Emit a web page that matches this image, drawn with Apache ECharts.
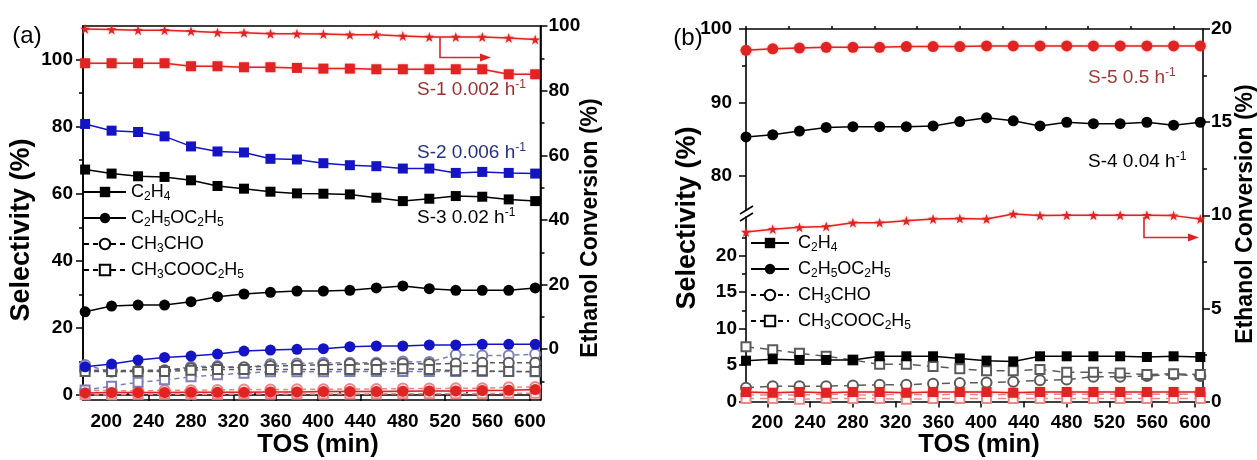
<!DOCTYPE html>
<html>
<head>
<meta charset="utf-8">
<script src="https://cdn.jsdelivr.net/npm/echarts@6/dist/echarts.min.js"></script>
<style>
  html, body { margin: 0; padding: 0; background: #fff; }
  #chart { width: 1257px; height: 460px; }
</style>
</head>
<body>
<div id="chart"></div>
<script>
// time on stream (min), same for every series
const tos = [180, 205, 230, 255, 280, 305, 330, 355, 380, 405, 430, 455, 480, 505, 530, 555, 580, 605];

// ---- panel (a) ----
const aS1Conv   = [99.1, 98.9, 98.7, 98.7, 98.4, 98.0, 97.9, 97.6, 97.6, 97.5, 97.3, 97.3, 96.9, 96.6, 96.6, 96.6, 96.3, 95.8];
const aS1C2H4   = [98.9, 98.9, 98.9, 98.9, 98.0, 98.0, 97.7, 97.7, 97.5, 97.3, 97.3, 97.1, 97.1, 97.1, 97.1, 97.1, 95.6, 95.6];
const aS1Ether  = [0.6, 0.7, 0.7, 0.7, 0.8, 0.8, 0.8, 0.9, 0.9, 1.0, 1.0, 1.0, 1.1, 1.2, 1.2, 1.3, 1.4, 1.6];
const aS1CH3CHO = [1.3, 1.3, 1.2, 1.4, 1.4, 1.5, 1.6, 1.6, 1.7, 1.7, 1.8, 1.8, 1.9, 1.9, 2.0, 2.0, 2.3, 2.4];
const aS1EtOAc  = [0.1, 0.1, 0.2, 0.2, 0.2, 0.2, 0.3, 0.3, 0.3, 0.3, 0.3, 0.3, 0.4, 0.4, 0.4, 0.4, 0.5, 0.5];
const aS2C2H4   = [80.8, 78.8, 78.4, 77.1, 74.1, 72.6, 72.3, 70.4, 70.2, 69.1, 68.5, 68.2, 67.5, 67.5, 66.2, 66.5, 66.2, 66.0];
const aS2Ether  = [8.4, 9.2, 10.4, 11.2, 11.6, 12.2, 13.1, 13.4, 13.6, 13.8, 14.4, 14.6, 14.6, 14.9, 14.9, 15.1, 15.1, 15.1];
const aS2CH3CHO = [8.9, 6.9, 7.2, 7.1, 8.4, 8.6, 8.0, 9.2, 9.4, 9.6, 9.6, 9.6, 10.0, 9.8, 12.0, 11.8, 11.8, 12.2];
const aS2EtOAc  = [1.5, 2.6, 3.8, 4.5, 5.4, 6.0, 6.5, 6.9, 6.9, 6.9, 7.0, 7.0, 7.0, 7.0, 7.0, 7.0, 7.0, 6.9];
const aS3C2H4   = [67.2, 66.0, 65.2, 65.0, 64.0, 62.3, 61.5, 60.6, 60.1, 60.0, 59.8, 58.8, 57.8, 58.5, 59.3, 59.1, 58.3, 57.8];
const aS3Ether  = [24.8, 26.5, 26.8, 26.8, 27.8, 29.3, 30.1, 30.6, 31.0, 31.0, 31.2, 31.9, 32.5, 31.7, 31.2, 31.2, 31.2, 31.9];
const aS3CH3CHO = [7.4, 7.3, 7.3, 7.4, 8.0, 8.3, 8.3, 8.6, 8.8, 9.0, 9.2, 9.2, 9.4, 9.2, 9.4, 9.6, 9.6, 9.6];
const aS3EtOAc  = [7.0, 7.0, 7.0, 7.0, 7.4, 7.6, 7.6, 7.6, 7.6, 7.6, 7.6, 7.6, 7.8, 7.6, 7.2, 7.2, 7.0, 7.0];

// ---- panel (b) ----
const bS5Conv   = [9.1, 9.25, 9.35, 9.4, 9.6, 9.6, 9.7, 9.8, 9.82, 9.8, 10.07, 9.98, 10.0, 10.0, 10.0, 10.0, 9.98, 9.8];
const bS5Ether  = [97.1, 97.3, 97.4, 97.5, 97.5, 97.5, 97.6, 97.6, 97.6, 97.7, 97.7, 97.7, 97.7, 97.7, 97.7, 97.7, 97.7, 97.7];
const bS5C2H4   = [1.3, 1.2, 1.3, 1.2, 1.3, 1.3, 1.2, 1.3, 1.3, 1.3, 1.2, 1.3, 1.3, 1.3, 1.3, 1.3, 1.3, 1.3];
const bS5CH3CHO = [0.9, 0.9, 0.9, 1.0, 0.9, 0.9, 1.0, 0.9, 1.0, 0.9, 1.0, 1.0, 1.0, 1.0, 1.0, 1.0, 1.0, 1.0];
const bS5EtOAc  = [0.4, 0.4, 0.3, 0.4, 0.4, 0.4, 0.3, 0.4, 0.4, 0.4, 0.4, 0.4, 0.4, 0.4, 0.4, 0.4, 0.4, 0.4];
const bS4Ether  = [85.3, 85.6, 86.1, 86.6, 86.7, 86.7, 86.7, 86.8, 87.4, 87.9, 87.5, 86.8, 87.3, 87.1, 87.1, 87.3, 86.9, 87.3];
const bS4C2H4   = [5.6, 5.8, 5.7, 5.7, 5.7, 6.2, 6.2, 6.2, 5.9, 5.6, 5.5, 6.2, 6.2, 6.2, 6.2, 6.1, 6.2, 6.1];
const bS4CH3CHO = [1.9, 2.1, 2.1, 2.1, 2.2, 2.3, 2.3, 2.45, 2.55, 2.6, 2.7, 2.9, 3.0, 3.4, 3.4, 3.5, 3.7, 3.5];
const bS4EtOAc  = [7.5, 7.1, 6.6, 6.2, 5.7, 5.1, 5.1, 4.8, 4.5, 4.2, 4.2, 4.4, 4.0, 4.0, 3.9, 3.7, 3.8, 3.7];

// tick values
const xMajor = [200, 240, 280, 320, 360, 400, 440, 480, 520, 560, 600];
const xMinor = [180, 220, 260, 300, 340, 380, 420, 460, 500, 540, 580];
const aLeftMajor = [0, 20, 40, 60, 80, 100];
const aLeftMinor = [10, 30, 50, 70, 90];
const aRightMajor = [0, 20, 40, 60, 80, 100];
const aRightMinor = [-10, 10, 30, 50, 70, 90];
const bUpMajor = [80, 90, 100];
const bUpMinor = [85, 95];
const bLowMajor = [0, 5, 10, 15, 20];
const bLowMinor = [2.5, 7.5, 12.5, 17.5, 22.5];

const legendNames = ['C2H4', 'C2H5OC2H5', 'CH3CHO', 'CH3COOC2H5'];

const RED = '#e02424', PINK = '#e98a8a', BLUE = '#1414c4', SLATE = '#7c80b6', GREY = '#5a5a5a';
const STAR = 'path://M12,0 L14.8,8.6 L23.8,8.6 L16.5,13.9 L19.3,22.6 L12,17.3 L4.7,22.6 L7.5,13.9 L0.2,8.6 L9.2,8.6 Z';
const FONT = 'Liberation Sans, Arial, sans-serif';

const chart = echarts.init(document.getElementById('chart'));

function pts(arr) {
  return tos.map((t, i) => [t, arr[i]]);
}

function ser(name, arr, xi, yi, color, kind, glow, dash) {
  const k = {
    sq: ['rect', 10, false],
    ci: ['circle', 11, false],
    oc: ['emptyCircle', 10, true],
    os: ['emptyRect', 9, true],
    st: [STAR, 10, false]
  }[kind];
  const s = {
    name: name,
    type: 'line',
    xAxisIndex: xi,
    yAxisIndex: yi,
    data: arr ? pts(arr) : [],
    symbol: k[0],
    symbolSize: k[1],
    showSymbol: true,
    lineStyle: { color: color, width: 1.5, type: k[2] ? (dash || [5, 4]) : 'solid' },
    itemStyle: { color: color },
    emphasis: { disabled: true },
    z: k[2] ? 2 : 3
  };
  if (k[2]) s.itemStyle.borderWidth = 1.3;
  if (glow) {
    s.itemStyle.shadowBlur = 3;
    s.itemStyle.shadowColor = 'rgba(235,60,60,0.45)';
    s.lineStyle.shadowBlur = 2;
    s.lineStyle.shadowColor = 'rgba(235,60,60,0.4)';
  }
  return s;
}

function chem(name) {
  return name.replace(/([A-Za-z]+)|(\d+)/g, (m, a, d) => a ? '{n|' + a + '}' : '{s|' + d + '}');
}

const legendRich = {
  n: { fontFamily: FONT, fontSize: 18, lineHeight: 22, color: '#000' },
  s: { fontFamily: FONT, fontSize: 12, lineHeight: 12, verticalAlign: 'bottom', color: '#000' }
};

const tickLbl = { color: '#000', fontFamily: FONT, fontWeight: 'bold', fontSize: 19 };
const blackLine = { show: true, lineStyle: { color: '#000', width: 1.6 } };

function xAx(grid, min, max, major, minor, show) {
  return [
    {
      type: 'value', gridIndex: grid, min: min, max: max, show: show,
      axisLine: blackLine,
      axisTick: { show: true, customValues: major, length: 6, lineStyle: { color: '#000', width: 1.5 } },
      axisLabel: Object.assign({ customValues: major, margin: 12 }, tickLbl),
      splitLine: { show: false }
    },
    {
      type: 'value', gridIndex: grid, min: min, max: max, show: show,
      axisLine: { show: false },
      axisTick: { show: true, customValues: minor, length: 3, lineStyle: { color: '#000', width: 1.5 } },
      axisLabel: { show: false },
      splitLine: { show: false }
    }
  ];
}

function yAx(grid, pos, min, max, major, minor, margin) {
  return [
    {
      type: 'value', gridIndex: grid, position: pos, min: min, max: max,
      axisLine: blackLine,
      axisTick: { show: true, customValues: major, length: 7, lineStyle: { color: '#000', width: 1.5 } },
      axisLabel: Object.assign({ customValues: major, margin: margin }, tickLbl),
      splitLine: { show: false }
    },
    {
      type: 'value', gridIndex: grid, position: pos, min: min, max: max,
      axisLine: { show: false },
      axisTick: { show: true, customValues: minor, length: 4, lineStyle: { color: '#000', width: 1.5 } },
      axisLabel: { show: false },
      splitLine: { show: false }
    }
  ];
}

const xAxes = [].concat(
  xAx(0, 178, 610, xMajor, xMinor, true),      // 0,1  panel a
  xAx(1, 180, 607.5, xMajor, xMinor, true),    // 2,3  panel b full
  [
    { type: 'value', gridIndex: 2, min: 180, max: 607.5, position: 'top',
      axisLine: blackLine, axisTick: { show: false }, axisLabel: { show: false }, splitLine: { show: false } }, // 4
    { type: 'value', gridIndex: 3, min: 180, max: 607.5, show: false }  // 5
  ]
);

const yAxes = [].concat(
  yAx(0, 'left', -1.5, 110, aLeftMajor, aLeftMinor, 10),       // 0,1
  yAx(0, 'right', -15.7, 100, aRightMajor, aRightMinor, 8),    // 2,3
  [
    { // 4: panel b conversion
      type: 'value', gridIndex: 1, position: 'right', min: 0, max: 20, interval: 5,
      axisLine: blackLine,
      axisTick: { show: true, length: 7, lineStyle: { color: '#000', width: 1.5 } },
      minorTick: { show: true, splitNumber: 2, length: 4, lineStyle: { color: '#000', width: 1.5 } },
      axisLabel: Object.assign({ margin: 8 }, tickLbl),
      splitLine: { show: false }
    }
  ],
  yAx(2, 'left', 75.35, 100, bUpMajor, bUpMinor, 14),          // 5,6
  yAx(3, 'left', 0, 25.3, bLowMajor, bLowMinor, 9)             // 7,8
);

const series = [
  // legend stand-ins
  ser('C2H4', null, 0, 0, '#000', 'sq'),
  ser('C2H5OC2H5', null, 0, 0, '#000', 'ci'),
  ser('CH3CHO', null, 0, 0, '#000', 'oc'),
  ser('CH3COOC2H5', null, 0, 0, '#000', 'os'),

  // panel a
  ser('a S-1 conv', aS1Conv, 0, 2, RED, 'st', true),
  ser('a S-1 C2H4', aS1C2H4, 0, 0, RED, 'sq', true),
  ser('a S-1 ether', aS1Ether, 0, 0, RED, 'ci', true),
  ser('a S-1 CH3CHO', aS1CH3CHO, 0, 0, PINK, 'oc'),
  ser('a S-1 EtOAc', aS1EtOAc, 0, 0, PINK, 'os'),
  ser('a S-2 C2H4', aS2C2H4, 0, 0, BLUE, 'sq'),
  ser('a S-2 ether', aS2Ether, 0, 0, BLUE, 'ci'),
  ser('a S-2 CH3CHO', aS2CH3CHO, 0, 0, SLATE, 'oc'),
  ser('a S-2 EtOAc', aS2EtOAc, 0, 0, SLATE, 'os'),
  ser('a S-3 C2H4', aS3C2H4, 0, 0, '#000', 'sq'),
  ser('a S-3 ether', aS3Ether, 0, 0, '#000', 'ci'),
  ser('a S-3 CH3CHO', aS3CH3CHO, 0, 0, GREY, 'oc'),
  ser('a S-3 EtOAc', aS3EtOAc, 0, 0, GREY, 'os'),

  // panel b
  ser('b S-5 conv', bS5Conv, 2, 4, RED, 'st', true),
  ser('b S-5 ether', bS5Ether, 4, 5, RED, 'ci', true),
  ser('b S-4 ether', bS4Ether, 4, 5, '#000', 'ci'),
  ser('b S-5 C2H4', bS5C2H4, 5, 7, RED, 'sq', true),
  ser('b S-5 CH3CHO', bS5CH3CHO, 5, 7, PINK, 'oc', false, [8, 6]),
  ser('b S-5 EtOAc', bS5EtOAc, 5, 7, PINK, 'os', false, [8, 6]),
  ser('b S-4 C2H4', bS4C2H4, 5, 7, '#000', 'sq'),
  ser('b S-4 CH3CHO', bS4CH3CHO, 5, 7, GREY, 'oc', false, [8, 6]),
  ser('b S-4 EtOAc', bS4EtOAc, 5, 7, GREY, 'os', false, [8, 6])
];

function txt(x, y, text, style, rot) {
  return {
    type: 'text', x: x, y: y, rotation: rot || 0, silent: true,
    style: Object.assign({ text: text, align: 'center', verticalAlign: 'middle', fill: '#000' }, style)
  };
}

const titleBold = (size) => ({ font: 'bold ' + size + 'px ' + FONT });
const rateRich = (color) => ({
  rich: {
    n: { fontFamily: FONT, fontSize: 19, lineHeight: 22, fill: color },
    p: { fontFamily: FONT, fontSize: 12, lineHeight: 12, verticalAlign: 'top', fill: color }
  }
});

const graphics = [
  txt(27, 36, '(a)', { font: '24px ' + FONT }),
  txt(688, 38, '(b)', { font: '24px ' + FONT }),
  txt(22, 230, 'Selectivity (%)', titleBold(27), Math.PI / 2),
  txt(688, 218, 'Selectivity (%)', titleBold(27), Math.PI / 2),
  txt(591, 228, 'Ethanol Conversion (%)', titleBold(23), Math.PI / 2),
  txt(1246, 214, 'Ethanol Conversion (%)', titleBold(23), Math.PI / 2),
  txt(318, 445, 'TOS (min)', titleBold(25.5)),
  txt(979, 445, 'TOS (min)', titleBold(25.5)),
  txt(417, 90, '{n|S-1 0.002 h}{p|-1}', Object.assign({ align: 'left' }, rateRich('#9b3030'))),
  txt(417, 153, '{n|S-2 0.006 h}{p|-1}', Object.assign({ align: 'left' }, rateRich('#253080'))),
  txt(417, 218, '{n|S-3 0.02 h}{p|-1}', Object.assign({ align: 'left' }, rateRich('#000'))),
  txt(1088, 78, '{n|S-5 0.5 h}{p|-1}', Object.assign({ align: 'left' }, rateRich('#a03a3a'))),
  txt(1088, 162, '{n|S-4 0.04 h}{p|-1}', Object.assign({ align: 'left' }, rateRich('#000'))),
  // axis break marks on panel b left axis
  { type: 'line', silent: true, shape: { x1: 740, y1: 214, x2: 753, y2: 206 }, style: { stroke: '#000', lineWidth: 1.6 } },
  { type: 'line', silent: true, shape: { x1: 740, y1: 221, x2: 753, y2: 213 }, style: { stroke: '#000', lineWidth: 1.6 } },
  // arrows pointing to the conversion axis
  { type: 'polyline', silent: true, shape: { points: [[440, 37], [440, 57.5], [482, 57.5]] }, style: { stroke: RED, lineWidth: 1.6, fill: null } },
  { type: 'polygon', silent: true, shape: { points: [[480, 53.5], [491, 57.5], [480, 61.5]] }, style: { fill: RED } },
  { type: 'polyline', silent: true, shape: { points: [[1144, 217], [1144, 237.5], [1190, 237.5]] }, style: { stroke: RED, lineWidth: 1.6, fill: null } },
  { type: 'polygon', silent: true, shape: { points: [[1188, 233.5], [1199, 237.5], [1188, 241.5]] }, style: { fill: RED } }
];

chart.setOption({
  animation: false,
  backgroundColor: '#fff',
  grid: [
    { left: 83, top: 26, width: 457.5, height: 374, show: true, borderColor: '#000', borderWidth: 1.6, backgroundColor: 'transparent' },
    { left: 746, top: 29, width: 457, height: 372.5 },
    { left: 746, top: 29, width: 457, height: 181 },
    { left: 746, top: 217, width: 457, height: 184.5 }
  ],
  xAxis: xAxes,
  yAxis: yAxes,
  legend: [
    {
      orient: 'vertical', left: 83, top: 183, padding: 0,
      itemWidth: 42, itemHeight: 13, itemGap: 6,
      selectedMode: false, data: legendNames,
      formatter: chem, textStyle: { rich: legendRich }
    },
    {
      orient: 'vertical', left: 750, top: 234, padding: 0,
      itemWidth: 38, itemHeight: 13, itemGap: 6,
      selectedMode: false, data: legendNames,
      formatter: chem, textStyle: { rich: legendRich, padding: [0, 0, 0, 4] }
    }
  ],
  graphic: graphics,
  series: series
});
</script>
</body>
</html>
